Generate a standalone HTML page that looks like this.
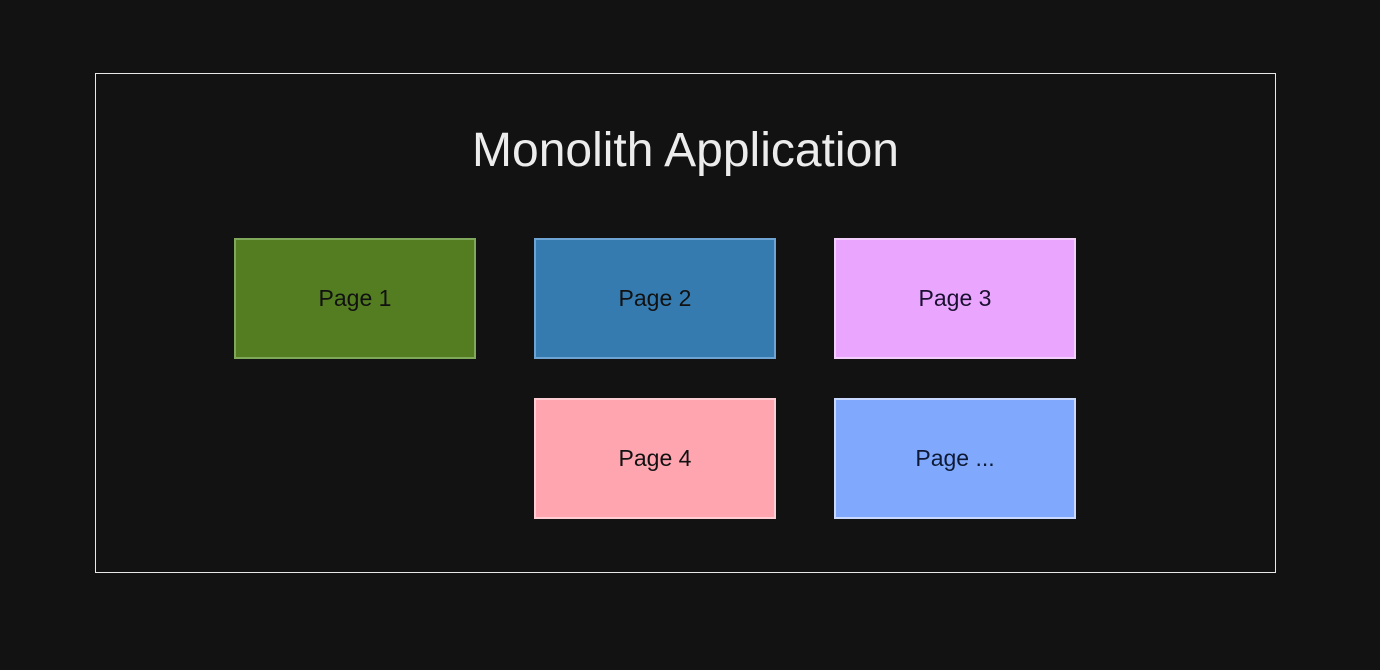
<!DOCTYPE html>
<html><head><meta charset="utf-8"><style>
body{margin:0;width:1380px;height:670px;background:#121212;position:relative;overflow:hidden;font-family:"Liberation Sans",Arial,sans-serif}
.frame{position:absolute;left:95px;top:73px;width:1181px;height:500px;border:1.5px solid #e8e8e8;box-sizing:border-box}
.title{position:absolute;left:95px;width:1181px;top:123px;text-align:center;color:#ececec;font-size:48px;line-height:56px}
.b{position:absolute;width:242px;height:121px;box-sizing:border-box;border:2px solid;display:flex;align-items:center;justify-content:center;font-size:23px;color:#111}
</style></head><body>
<div class="frame"></div>
<div class="title">Monolith Application</div>
<div class="b" style="left:234px;top:238px;background:#537d20;border-color:#7fa85a">Page 1</div>
<div class="b" style="left:534px;top:238px;background:#357bb0;border-color:#6ea4d4">Page 2</div>
<div class="b" style="left:834px;top:238px;background:#eaa6fe;border-color:#f3cdfc;color:#1a1030">Page 3</div>
<div class="b" style="left:534px;top:398px;background:#fea5b0;border-color:#fecdd3">Page 4</div>
<div class="b" style="left:834px;top:398px;background:#80a9fe;border-color:#c8d8fe;color:#0e1a35">Page ...</div>
</body></html>
